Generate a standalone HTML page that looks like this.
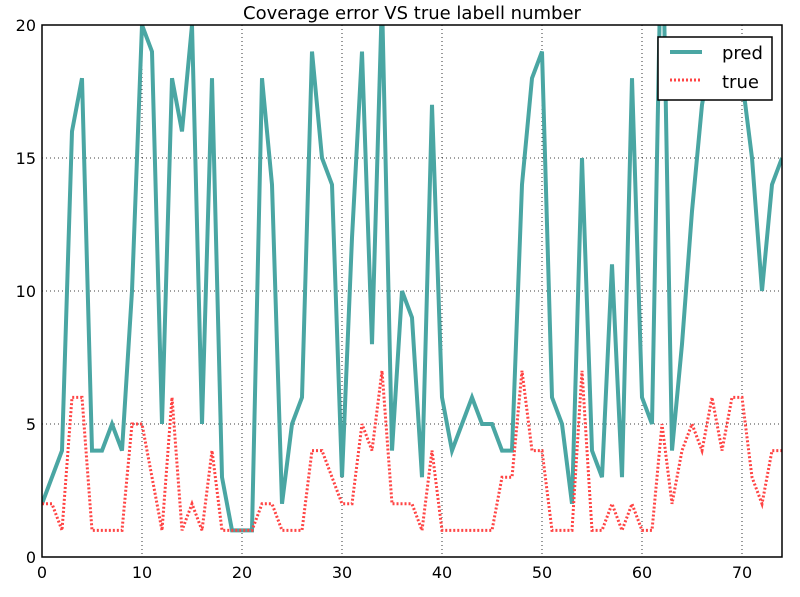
<!DOCTYPE html>
<html><head><meta charset="utf-8"><style>
html,body{margin:0;padding:0;background:#fff;}
svg{display:block;font-family:"DejaVu Sans","Liberation Sans",sans-serif;}
</style></head><body>
<svg id="chart" width="800" height="597">
<rect width="800" height="597" fill="#fff"/>
<text x="412" y="19" font-size="18" text-anchor="middle">Coverage error VS true labell number</text>
<defs><clipPath id="pc"><rect x="42" y="25" width="740" height="532"/></clipPath></defs>
<g id="grid"></g>
<g id="ticks"></g>
<g id="series" clip-path="url(#pc)"></g>
<rect x="42" y="25" width="740" height="532" fill="none" stroke="#000" stroke-width="1.5"/>
<g>
<rect x="658" y="37" width="114" height="63" fill="#fff" stroke="#000" stroke-width="1.5"/>
<line x1="670" y1="52" x2="702" y2="52" stroke="#4aa6a3" stroke-width="4"/>
<text x="722" y="59" font-size="18">pred</text>
<line x1="670" y1="80" x2="702" y2="80" stroke="#ff4444" stroke-width="3" stroke-dasharray="2,2"/>
<text x="722" y="88" font-size="18">true</text>
</g>
</svg>
<script>
const xs = Array.from({length:75},(_,i)=>i);
const pred = [2,3,4,16,18,4,4,5,4,10,20,19,5,18,16,20,5,18,3,1,1,1,18,14,2,5,6,19,15,14,3,12,19,8,21,4,10,9,3,17,6,4,5,6,5,5,4,4,14,18,19,6,5,2,15,4,3,11,3,18,6,5,25,4,8,13,17,19,19,19,18,15,10,14,15];
const truth = [2,2,1,6,6,1,1,1,1,5,5,3,1,6,1,2,1,4,1,1,1,1,2,2,1,1,1,4,4,3,2,2,5,4,7,2,2,2,1,4,1,1,1,1,1,1,3,3,7,4,4,1,1,1,7,1,1,2,1,2,1,1,5,2,4,5,4,6,4,6,6,3,2,4,4];
const xTicks = [0,10,20,30,40,50,60,70];
const yTicks = [0,5,10,15,20];
const X = v => 42 + v*(740/74);
const Y = v => 557 - v*(532/20);
const NS="http://www.w3.org/2000/svg";
const grid=document.getElementById('grid'), ticks=document.getElementById('ticks'), series=document.getElementById('series');
function mk(tag,attrs,parent){const e=document.createElementNS(NS,tag);for(const k in attrs)e.setAttribute(k,attrs[k]);parent.appendChild(e);return e;}
xTicks.forEach(t=>{
  const g=mk('line',{x1:X(t),x2:X(t),y1:25,y2:557,stroke:'#000','stroke-width':0.8,'stroke-dasharray':'1,3'},grid);
  
  
  const l=mk('text',{x:X(t),y:578,'font-size':16,'text-anchor':'middle'},ticks);
  l.textContent=t;
  
  
});
yTicks.forEach(t=>{
  const g=mk('line',{x1:42,x2:782,y1:Y(t),y2:Y(t),stroke:'#000','stroke-width':0.8,'stroke-dasharray':'1,3'},grid);
  
  
  const l=mk('text',{x:36,y:Y(t)+6,'font-size':16,'text-anchor':'end'},ticks);
  l.textContent=t;
  
  
});
const pp=mk('polyline',{points:xs.map((x,i)=>X(x)+','+Y(pred[i])).join(' '),fill:'none',stroke:'#4aa6a3','stroke-width':4,'stroke-linejoin':'miter'},series);


const tp=mk('polyline',{points:xs.map((x,i)=>X(x)+','+Y(truth[i])).join(' '),fill:'none',stroke:'#ff4444','stroke-width':3,'stroke-dasharray':'2,2'},series);


</script>
</body></html>
